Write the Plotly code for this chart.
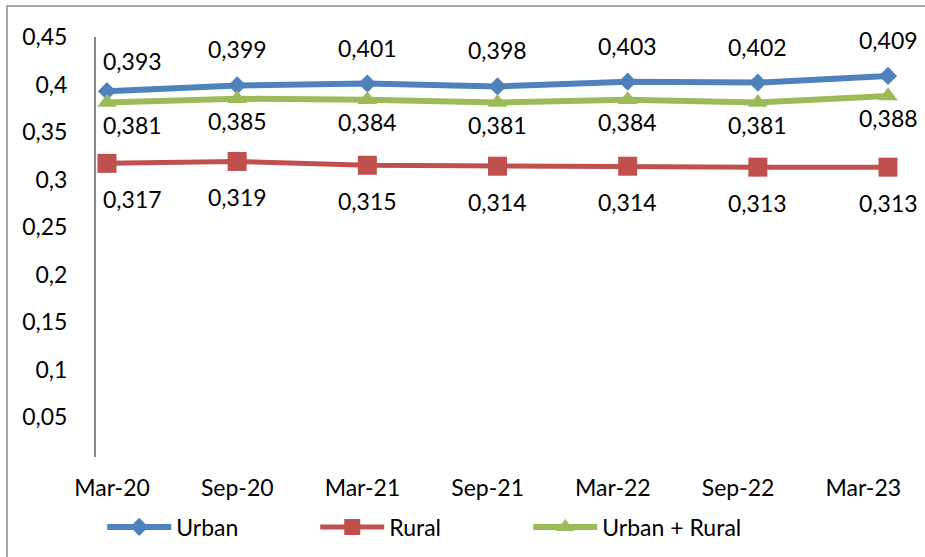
import plotly.graph_objects as go

categories = ["Mar-20", "Sep-20", "Mar-21", "Sep-21", "Mar-22", "Sep-22", "Mar-23"]
urban = [0.393, 0.399, 0.401, 0.398, 0.403, 0.402, 0.409]
rural = [0.317, 0.319, 0.315, 0.314, 0.314, 0.313, 0.313]
urban_rural = [0.381, 0.385, 0.384, 0.381, 0.384, 0.381, 0.388]
y_ticks = [0.05, 0.1, 0.15, 0.2, 0.25, 0.3, 0.35, 0.4, 0.45]

FONT = "Lato"
BLUE, RED, GREEN = "#4F81BD", "#C0504D", "#9BBB59"


def fmt(v):
    return f"{v:.3f}".replace(".", ",")


def tfmt(v):
    s = f"{v:.2f}".rstrip("0")
    return s.replace(".", ",")


fig = go.Figure()
series = [
    ("Urban", urban, BLUE, "diamond", 14, 6, 36),
    ("Rural", rural, RED, "square", 19, 5, -36),
    ("Urban + Rural", urban_rural, GREEN, "triangle-up", 17, 6, -22),
]
annotations = []
for name, vals, col, sym, msize, lw, shift in series:
    fig.add_trace(go.Scatter(
        x=categories, y=vals, name=name, mode="lines+markers",
        line=dict(color=col, width=lw),
        marker=dict(symbol=sym, size=msize, color=col),
        cliponaxis=False,
    ))
    for i, (c, v) in enumerate(zip(categories, vals)):
        annotations.append(dict(
            x=c, y=v, xref="x", yref="y", text=fmt(v), showarrow=False,
            yshift=(shift - 6 if (i == 0 and shift > 0) else shift),
            xanchor="left" if i == 0 else "center",
            xshift=-6 if i == 0 else 0,
            font=dict(family=FONT, size=23, color="black"),
        ))

# carrier for the category labels axis (draws nothing)
fig.add_trace(go.Scatter(
    x=list(range(len(categories))), y=[None] * len(categories),
    xaxis="x2", yaxis="y", mode="markers", showlegend=False,
    hoverinfo="skip",
))

W, H = 925, 557
L, R, T, B = 96, 5, 37, 100
plot_w = W - L - R
plot_h = H - T - B

fig.update_layout(
    width=W, height=H,
    margin=dict(l=L, r=R, t=T, b=B, autoexpand=False),
    paper_bgcolor="white", plot_bgcolor="white",
    separators=",.",
    font=dict(family=FONT, size=23, color="black"),
    showlegend=True,
    legend=dict(
        orientation="h", x=(108 - 96) / plot_w - 0.007, y=(457 - 527) / plot_h,
        xanchor="left", yanchor="middle",
        font=dict(family=FONT, size=23, color="black"),
        itemwidth=64, entrywidth=134, entrywidthmode="pixels",
        bgcolor="rgba(0,0,0,0)",
    ),
    xaxis=dict(
        type="category", range=[-11 / 130.17, 6 + 32 / 130.17],
        showticklabels=False, showline=False, showgrid=False, zeroline=False,
        ticks="",
    ),
    xaxis2=dict(
        overlaying="x", anchor="y", side="bottom", type="linear",
        range=[-0.128, 6.453], tickvals=list(range(len(categories))),
        ticktext=categories, showline=False, showgrid=False, zeroline=False,
        ticks="outside", ticklen=10, tickcolor="rgba(0,0,0,0)",
        tickfont=dict(family=FONT, size=23, color="black"),
    ),
    yaxis=dict(
        range=[0.45 - plot_h / 950, 0.45],
        tickvals=y_ticks, ticktext=[tfmt(v) for v in y_ticks],
        showline=True, linecolor="#868686", linewidth=2,
        showgrid=False, zeroline=False,
        ticks="outside", ticklen=22, tickcolor="rgba(0,0,0,0)",
        tickfont=dict(family=FONT, size=23, color="black"),
    ),
    annotations=annotations,
    shapes=[dict(
        type="rect", xref="paper", yref="paper",
        x0=(7 - L) / plot_w, x1=1.2, y0=-0.5, y1=1 + (T - 6) / plot_h,
        line=dict(color="#a6a6a6", width=2), fillcolor="rgba(0,0,0,0)",
        layer="below",
    )],
)

fig.write_html(
    "out.html",
    config={"displayModeBar": False},
    post_script="document.body.style.margin='0';document.body.style.overflow='hidden';",
)
